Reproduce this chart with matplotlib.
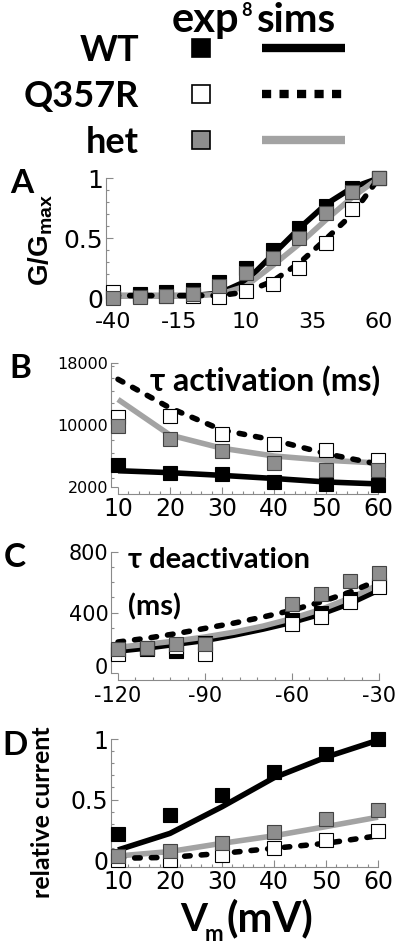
import numpy as np
import matplotlib
matplotlib.use('Agg')
from matplotlib import pyplot as plt
from matplotlib import transforms
from matplotlib.ticker import MultipleLocator, FixedLocator

plt.rcParams['font.family'] = ['DejaVu Sans']
plt.rcParams['axes.unicode_minus'] = False
plt.rcParams['mathtext.fontset'] = 'custom'
plt.rcParams['mathtext.rm'] = 'Liberation Sans'
plt.rcParams['mathtext.bf'] = 'Liberation Sans:bold'

# ---- data ----
# A: G/Gmax vs voltage
a_v = [-40, -30, -20, -10, 0, 10, 20, 30, 40, 50, 60]
a_wt_exp = [0.02, 0.03, 0.05, 0.07, 0.13, 0.25, 0.40, 0.58, 0.77, 0.92, 1.0]
a_mut_exp = [0.05, 0.02, 0.02, 0.02, 0.01, 0.055, 0.12, 0.25, 0.46, 0.74, 1.0]
a_het_exp = [0.0, 0.01, 0.02, 0.03, 0.10, 0.21, 0.33, 0.50, 0.71, 0.88, 1.0]
a_wt_sim = [0.02, 0.02, 0.02, 0.02, 0.04, 0.14, 0.36, 0.58, 0.78, 0.92, 1.0]
a_mut_sim = [0.02, 0.02, 0.02, 0.02, 0.02, 0.05, 0.14, 0.29, 0.49, 0.70, 1.0]
a_het_sim = [0.02, 0.02, 0.02, 0.02, 0.03, 0.10, 0.27, 0.45, 0.65, 0.84, 1.0]

# B: tau activation (ms)
b_v = [10, 20, 30, 40, 50, 60]
b_wt_exp = [4900, 3850, 3650, 2650, 2350, 2200]
b_mut_exp = [11000, 11100, 8900, 7600, 6750, 5450]
b_het_exp = [9900, 8200, 6650, 5100, 4250, 4150]
b_wt_sim = [4100, 3850, 3500, 3100, 2650, 2400]
b_mut_sim = [15900, 12200, 9350, 8050, 6300, 4950]
b_het_sim = [13300, 8700, 7000, 6000, 5450, 5100]

# C: tau deactivation (ms)
c_v_exp = [-120, -110, -100, -90, -60, -50, -40, -30]
c_wt_exp = [150, 160, 145, 200, 350, 400, 490, 580]
c_mut_exp = [127, 165, 171, 127, 325, 373, 471, 570]
c_het_exp = [158, 165, 193, 193, 456, 522, 607, 662]
c_v_sim = [-120, -110, -100, -90, -80, -70, -60, -50, -40, -30]
c_wt_sim = [145, 165, 190, 215, 250, 290, 335, 390, 460, 550]
c_mut_sim = [205, 230, 260, 295, 330, 370, 415, 470, 535, 615]
c_het_sim = [170, 190, 212, 238, 270, 310, 360, 420, 495, 585]

# D: relative current
d_v = [10, 20, 30, 40, 50, 60]
d_wt_exp = [0.215, 0.373, 0.54, 0.727, 0.878, 1.0]
d_mut_exp = [0.0, 0.0, 0.04, 0.097, 0.166, 0.243]
d_het_exp = [0.03, 0.077, 0.144, 0.235, 0.34, 0.414]
d_wt_sim = [0.083, 0.22, 0.44, 0.68, 0.85, 0.99]
d_mut_sim = [0.014, 0.022, 0.055, 0.097, 0.138, 0.2]
d_het_sim = [0.033, 0.07, 0.138, 0.2, 0.276, 0.354]

labels = ['WT', 'Q357R', 'het']

GRAY_LINE = '#a3a3a3'
GRAY_FILL = '#8e8e8e'
SPINE = '#8a8a8a'
LW = 4
MS = 9.5


def style_axes(ax):
    ax.set_facecolor('none')
    for s in ['top', 'right']:
        ax.spines[s].set_visible(False)
    for s in ['left', 'bottom']:
        ax.spines[s].set_color(SPINE)
        ax.spines[s].set_linewidth(0.8)
        ax.spines[s].set_position(('outward', 5))
    ax.tick_params(which='both', direction='in', color=SPINE, width=0.8, pad=2)
    ax.tick_params(which='major', length=5)
    ax.tick_params(which='minor', length=2.5)


def draw_panel(ax, xs_exp, wt_e, mut_e, het_e, xs_sim, wt_s, mut_s, het_s):
    ax.plot(xs_sim, mut_s, color='black', lw=LW, dashes=(1.0, 2.0),
            dash_capstyle='round', zorder=3, clip_on=False)
    ax.plot(xs_sim, het_s, color=GRAY_LINE, lw=LW, solid_capstyle='butt', zorder=2, clip_on=False)
    ax.plot(xs_sim, wt_s, color='black', lw=LW, solid_capstyle='butt', zorder=1, clip_on=False)
    ax.plot(xs_exp, wt_e, 's', ms=MS, mfc='black', mec='black', mew=0.8, zorder=4, clip_on=False)
    ax.plot(xs_exp, mut_e, 's', ms=MS, mfc='white', mec='black', mew=0.8, zorder=5, clip_on=False)
    ax.plot(xs_exp, het_e, 's', ms=MS, mfc=GRAY_FILL, mec='#444444', mew=0.8, zorder=6, clip_on=False)


fig = plt.figure(figsize=(4, 9.47), dpi=100)

# legend / annotation layer in pixel coordinates
lax = fig.add_axes([0, 0, 1, 1])
lax.set_xlim(0, 400)
lax.set_ylim(947, 0)
lax.axis('off')

bold = dict(family=['Lato', 'DejaVu Sans'], fontweight='bold', color='black')
t_exp = lax.text(172, 32, 'exp', fontsize=30, ha='left', va='baseline', **bold)
lax.annotate('8', xy=(1, 1), xycoords=t_exp, xytext=(1, -1), textcoords='offset points',
             fontsize=13, ha='left', va='top', **bold)
lax.text(257, 32, 'sims', fontsize=29, ha='left', va='baseline', **bold)
row_y = [48, 94, 140]
fills = ['black', 'white', GRAY_FILL]
for lab, y, fc in zip(labels, row_y, fills):
    lax.text(139, y + 13, lab, fontsize=26, ha='right', va='baseline', **bold)
    lax.plot([201], [y], 's', ms=12.5, mfc=fc, mec='black', mew=1.2)
lax.plot([262, 345], [48, 48], color='black', lw=6, solid_capstyle='butt')
lax.plot([262, 345], [94, 94], color='black', lw=6, dashes=(1.1, 1.0), dash_capstyle='butt')
lax.plot([262, 345], [140, 140], color=GRAY_LINE, lw=6, solid_capstyle='butt')

for lab, x, y in [('A', 22, 183), ('B', 20, 368), ('C', 15, 557), ('D', 15, 745)]:
    lax.text(x, y, lab, fontsize=24, ha='center', va='center', **bold)

# ---- panel A ----
axA = fig.add_axes([0.2825, 1 - 298 / 947.0, 0.665, 120 / 947.0])
style_axes(axA)
draw_panel(axA, a_v, a_wt_exp, a_mut_exp, a_het_exp, a_v, a_wt_sim, a_mut_sim, a_het_sim)
axA.set_xlim(-40, 60)
axA.set_ylim(0, 1)
axA.xaxis.set_major_locator(FixedLocator([-40, -15, 10, 35, 60]))
axA.xaxis.set_minor_locator(MultipleLocator(5))
axA.yaxis.set_major_locator(FixedLocator([0, 0.5, 1]))
axA.yaxis.set_minor_locator(MultipleLocator(0.1))
axA.set_yticklabels(['0', '0.5', '1'])
axA.tick_params(axis='y', labelsize=18)
axA.tick_params(axis='x', labelsize=16)
axA.spines['bottom'].set_visible(False)
axA.tick_params(axis='x', which='both', length=0, pad=5)
lax.text(41, 240, r'$\mathbf{G/G_{max}}$', fontsize=20, rotation=90, ha='center', va='center')

# ---- panel B ----
axB = fig.add_axes([0.295, 1 - 487 / 947.0, 0.65, 124 / 947.0])
style_axes(axB)
draw_panel(axB, b_v, b_wt_exp, b_mut_exp, b_het_exp, b_v, b_wt_sim, b_mut_sim, b_het_sim)
axB.set_xlim(10, 60)
axB.set_ylim(2000, 18000)
axB.xaxis.set_major_locator(MultipleLocator(10))
axB.xaxis.set_minor_locator(MultipleLocator(2))
axB.yaxis.set_major_locator(FixedLocator([2000, 10000, 18000]))
axB.yaxis.set_minor_locator(MultipleLocator(1600))
axB.tick_params(axis='y', labelsize=11.5)
axB.tick_params(axis='x', labelsize=17)
lax.text(265, 381, '\u03c4 activation (ms)', fontsize=23, ha='center', va='center', **bold)

# ---- panel C ----
axC = fig.add_axes([0.295, 1 - 673 / 947.0, 0.6525, 121 / 947.0])
style_axes(axC)
draw_panel(axC, c_v_exp, c_wt_exp, c_mut_exp, c_het_exp, c_v_sim, c_wt_sim, c_mut_sim, c_het_sim)
axC.set_xlim(-120, -30)
axC.set_ylim(0, 800)
axC.xaxis.set_major_locator(FixedLocator([-120, -90, -60, -30]))
axC.xaxis.set_minor_locator(MultipleLocator(6))
axC.yaxis.set_major_locator(FixedLocator([0, 400, 800]))
axC.yaxis.set_minor_locator(MultipleLocator(100))
axC.tick_params(axis='y', labelsize=15)
axC.tick_params(axis='x', labelsize=15, pad=4)
# the "0" label sits a little above its tick in the original
zero_lab = axC.yaxis.get_major_ticks()[0].label1
zero_lab.set_transform(zero_lab.get_transform() +
                       transforms.ScaledTranslation(0, 5 / 72.0, fig.dpi_scale_trans))
lax.text(128, 560, '\u03c4 deactivation', fontsize=21, ha='left', va='center', **bold)
lax.text(128, 607, '(ms)', fontsize=21, ha='left', va='center', **bold)

# ---- panel D ----
axD = fig.add_axes([0.295, 1 - 860 / 947.0, 0.65, 121 / 947.0])
style_axes(axD)
draw_panel(axD, d_v, d_wt_exp, d_mut_exp, d_het_exp, d_v, d_wt_sim, d_mut_sim, d_het_sim)
axD.set_xlim(10, 60)
axD.set_ylim(0, 1)
axD.xaxis.set_major_locator(MultipleLocator(10))
axD.xaxis.set_minor_locator(MultipleLocator(2))
axD.yaxis.set_major_locator(FixedLocator([0, 0.5, 1]))
axD.yaxis.set_minor_locator(MultipleLocator(0.1))
axD.set_yticklabels(['0', '0.5', '1'])
axD.tick_params(axis='both', labelsize=17)
lax.text(43, 812, 'relative current', fontsize=18, rotation=90, ha='center', va='center', **bold)
lax.text(180, 931, 'V', fontsize=28, ha='left', va='baseline', **bold)
lax.text(205, 941, 'm', fontsize=16, ha='left', va='baseline', **bold)
lax.text(226, 931, '(mV)', fontsize=30, ha='left', va='baseline', **bold)

fig.savefig('out.png', dpi=100)
